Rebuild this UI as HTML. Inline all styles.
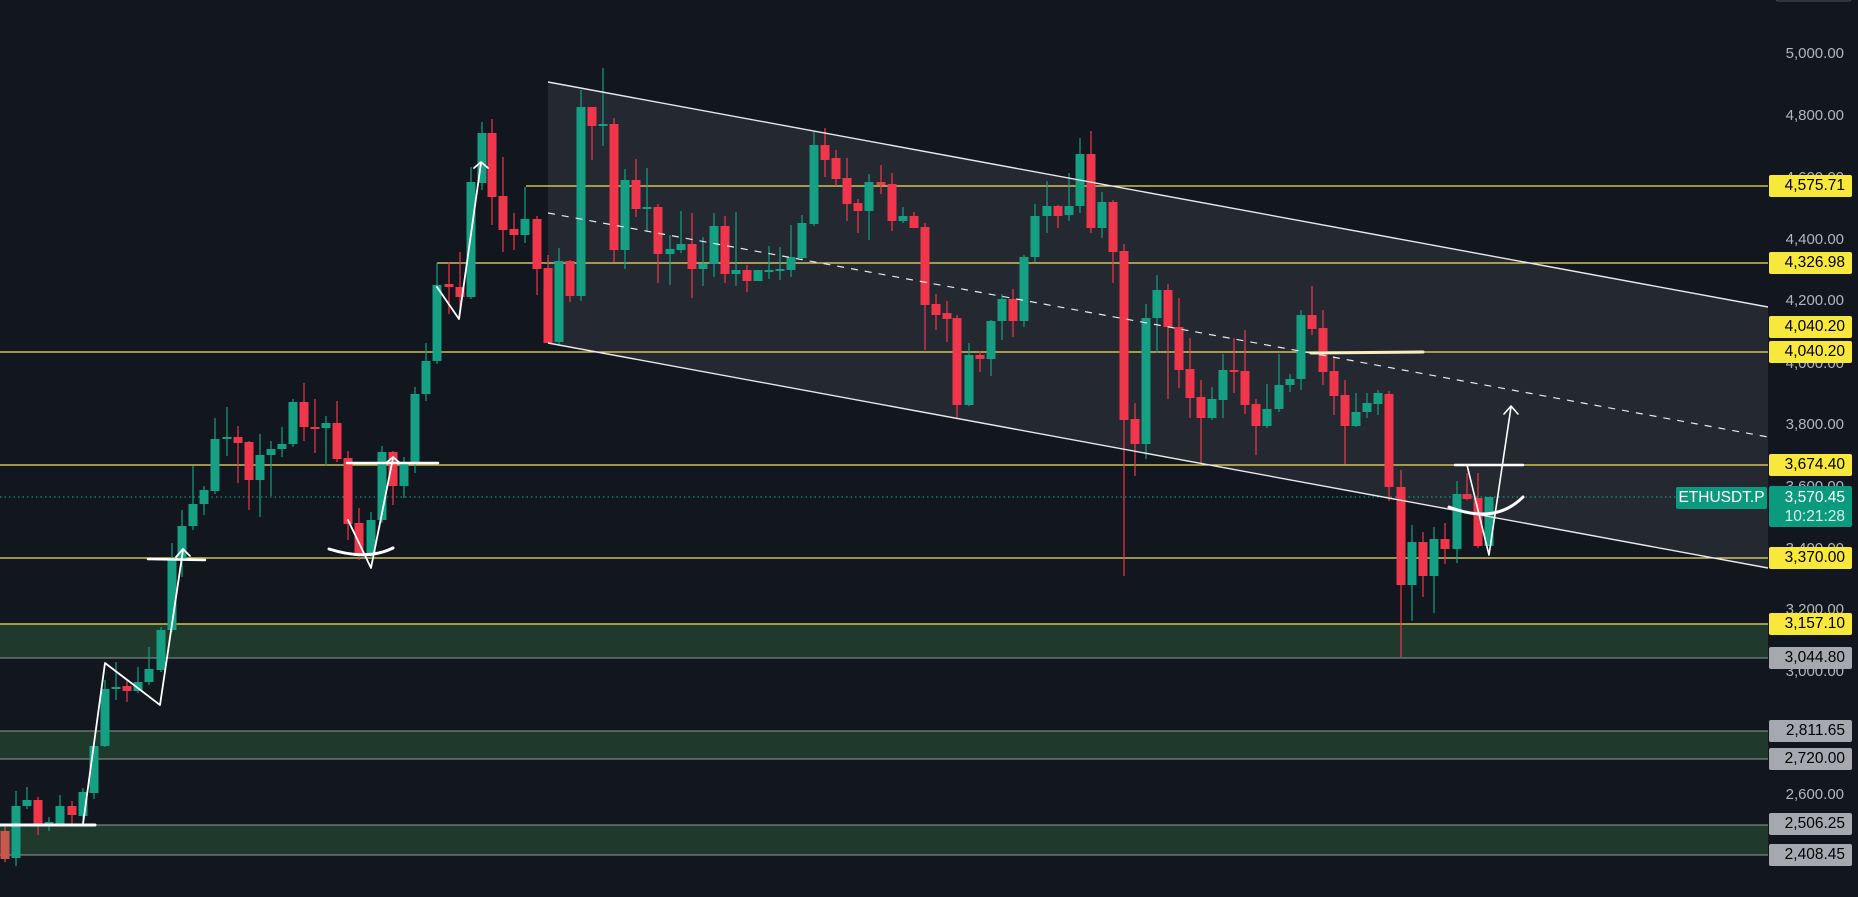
<!DOCTYPE html>
<html><head><meta charset="utf-8">
<style>
html,body{margin:0;padding:0;background:#12161f;}
#w{position:relative;width:1858px;height:897px;overflow:hidden;background:#12161f;font-family:"Liberation Sans",sans-serif;}
svg{position:absolute;left:0;top:0;}
.ax{position:absolute;left:1770px;width:74px;text-align:right;color:#b2b5be;font-size:15px;line-height:18px;}
.lb{position:absolute;left:1769px;width:83px;height:22px;border-radius:2px;font-size:15.5px;line-height:22px;text-align:right;box-sizing:border-box;padding-right:7px;color:#000;}
.y{background:#f8e83c;}
.g{background:#a5a8ae;}
</style></head><body>
<div id="w">
<svg width="1858" height="897" id="s" xmlns="http://www.w3.org/2000/svg">
  <!-- zones -->
  <rect x="0" y="624" width="1768" height="34" fill="#1f3a2c"/>
  <rect x="0" y="731" width="1768" height="28" fill="#1f3a2c"/>
  <rect x="0" y="825" width="1768" height="30" fill="#1f3a2c"/>
  <line x1="0" y1="658" x2="1768" y2="658" stroke="#8c9a98" stroke-width="1"/>
  <line x1="0" y1="731" x2="1768" y2="731" stroke="#8c9a98" stroke-width="1"/>
  <line x1="0" y1="759" x2="1768" y2="759" stroke="#8c9a98" stroke-width="1"/>
  <line x1="0" y1="825" x2="1768" y2="825" stroke="#8c9a98" stroke-width="1"/>
  <line x1="0" y1="855" x2="1768" y2="855" stroke="#8c9a98" stroke-width="1"/>
  <!-- channel fill -->
  <polygon points="548,82 1768,307 1768,568 548,343" fill="#242831"/>
  <!-- yellow lines -->
  <g stroke="#f0e060" stroke-width="1.2">
    <line x1="526" y1="186" x2="1768" y2="186"/>
    <line x1="437" y1="263" x2="1768" y2="263"/>
    <line x1="0" y1="352" x2="1768" y2="352"/>
    <line x1="0" y1="465" x2="1768" y2="465"/>
    <line x1="0" y1="558" x2="1768" y2="558"/>
    <line x1="0" y1="624" x2="1768" y2="624"/>
  </g>
  <!-- current price dotted -->
  <line x1="0" y1="497" x2="1768" y2="497" stroke="#22a88f" stroke-width="1" stroke-dasharray="1.5,3"/>
  <g id="c"></g>
  <!-- channel lines -->
  <line x1="548" y1="82" x2="1768" y2="307" stroke="#e8e8ec" stroke-width="1.4"/>
  <line x1="548" y1="343" x2="1768" y2="568" stroke="#e8e8ec" stroke-width="1.4"/>
  <line x1="548" y1="213" x2="1768" y2="437" stroke="#e8e8ec" stroke-width="1.2" stroke-dasharray="7,7"/>
  <!-- annotations -->
  <g stroke="#ffffff" fill="none" stroke-width="2" stroke-linecap="round" stroke-linejoin="round">
    <line x1="0" y1="825" x2="95" y2="825" stroke-width="3"/>
    <polyline points="83,824 105,663 160,705 183,550" stroke-width="1.8"/>
    <polyline points="176,557 183,549 190,556" stroke-width="1.8"/>
    <line x1="148" y1="559" x2="205" y2="560" stroke-width="2.5"/>
    <path d="M329,549 Q367,561 393,548" stroke-width="3"/>
    <polyline points="348,520 371,568 393,458" stroke-width="1.8"/>
    <polyline points="386,463 393,457 400,463" stroke-width="1.8"/>
    <line x1="347" y1="463" x2="438" y2="463" stroke-width="2.5"/>
    <polyline points="437,287 459,319 481,163" stroke-width="1.8"/>
    <polyline points="474,168 481,162 488,168" stroke-width="1.8"/>
    <line x1="1311" y1="353" x2="1423" y2="352" stroke="#f5eec0" stroke-width="3"/>
    <line x1="1455" y1="465" x2="1523" y2="465" stroke-width="2.5"/>
    <polyline points="1467,465 1489,555 1511,407" stroke-width="1.6"/>
    <polyline points="1504,414 1511,406 1518,414" stroke-width="1.6"/>
    <path d="M1449,507 Q1495,525 1523,497" stroke-width="3"/>
  </g>
  <rect x="1776" y="-4" width="75" height="5" rx="2" fill="none" stroke="#50535e"/>
</svg>
<div class="ax" style="top:45px">5,000.00</div>
<div class="ax" style="top:107px">4,800.00</div>
<div class="ax" style="top:169px">4,600.00</div>
<div class="ax" style="top:231px">4,400.00</div>
<div class="ax" style="top:292px">4,200.00</div>
<div class="ax" style="top:355px">4,000.00</div>
<div class="ax" style="top:416px">3,800.00</div>
<div class="ax" style="top:478px">3,600.00</div>
<div class="ax" style="top:540px">3,400.00</div>
<div class="ax" style="top:601px">3,200.00</div>
<div class="ax" style="top:663px">3,000.00</div>
<div class="ax" style="top:786px">2,600.00</div>
<div class="lb y" style="top:175px">4,575.71</div>
<div class="lb y" style="top:252px">4,326.98</div>
<div class="lb y" style="top:316px">4,040.20</div>
<div class="lb y" style="top:341px">4,040.20</div>
<div class="lb y" style="top:454px">3,674.40</div>
<div class="lb y" style="top:547px">3,370.00</div>
<div class="lb y" style="top:613px">3,157.10</div>
<div class="lb g" style="top:647px">3,044.80</div>
<div class="lb g" style="top:720px">2,811.65</div>
<div class="lb g" style="top:748px">2,720.00</div>
<div class="lb g" style="top:813px">2,506.25</div>
<div class="lb g" style="top:844px">2,408.45</div>
<div style="position:absolute;left:1676px;top:487px;width:91px;height:22px;background:#0b9a7e;border-radius:2px;color:#fff;font-size:15.5px;line-height:22px;text-align:center;">ETHUSDT.P</div>
<div style="position:absolute;left:1769px;top:486px;width:83px;height:41px;background:#0b9a7e;border-radius:2px;color:#fff;font-size:15.5px;line-height:19px;text-align:right;box-sizing:border-box;padding:2px 7px 0 0;">3,570.45<br><span style="color:#d8efe9">10:21:28</span></div>
</div>
<script>
var d=[
[5,'b',831,859,827,862],[16,'g',806,858,791,866],[27,'g',800,806,787,809],[38,'r',800,824,797,835],[49,'g',822,824,817,831],
[60,'g',806,824,795,825],[72,'r',806,815,801,824],[83,'g',792,816,788,824],[94,'g',746,793,742,799],[105,'g',689,746,680,747],
[116,'g',687,689,662,700],[127,'r',686,691,680,702],[138,'g',682,691,667,693],[149,'g',669,682,647,685],[161,'g',630,670,627,672],
[172,'g',558,630,543,632],[182,'g',526,560,510,577],[193,'g',504,526,466,530],[204,'g',490,504,486,515],[215,'g',439,491,418,494],
[227,'g',437,439,407,456],[238,'r',437,443,426,483],[249,'r',442,480,441,510],[260,'g',455,480,434,517],[271,'g',449,455,441,496],
[282,'g',444,449,427,457],[293,'g',402,444,399,447],[304,'r',402,427,383,441],[315,'r',427,428,399,453],[326,'g',423,428,416,466],
[337,'r',423,459,401,462],[348,'r',458,524,451,540],[359,'r',523,554,508,560],[371,'g',520,554,512,558],[382,'g',452,520,446,523],
[393,'r',452,486,451,505],[404,'g',463,486,457,498],[415,'g',394,463,387,473],[426,'g',361,394,343,401],[437,'g',285,361,263,364],
[449,'r',284,287,262,314],[460,'r',287,297,252,311],[471,'g',182,297,167,299],[482,'g',133,183,122,190],[492,'r',133,197,119,225],
[503,'r',196,230,157,252],[514,'r',229,235,213,250],[525,'g',219,235,187,243],[537,'r',219,269,216,295],[548,'r',268,343,255,343],
[559,'g',261,342,248,345],[570,'r',261,296,260,302],[581,'g',107,296,90,301],[592,'r',107,126,107,160],[603,'g',124,125,68,146],
[614,'r',124,250,118,262],[625,'g',180,250,169,269],[636,'r',180,209,159,217],[647,'g',207,208,168,232],[658,'r',207,254,204,283],
[670,'g',249,254,235,285],[681,'g',244,250,211,253],[692,'r',244,269,213,298],[703,'g',264,269,237,286],[714,'g',226,264,213,277],
[725,'r',226,274,216,283],[736,'g',270,274,212,286],[747,'r',270,281,265,292],[758,'g',270,281,270,281],[769,'g',270,271,246,279],
[780,'g',269,271,247,280],[791,'g',257,270,225,277],[802,'g',223,258,215,260],[814,'g',145,224,132,226],[825,'r',145,160,128,177],
[836,'r',158,179,150,186],[847,'r',178,204,158,221],[858,'r',203,211,199,233],[869,'g',182,211,174,240],[881,'r',182,185,165,194],
[892,'r',184,221,173,231],[903,'g',216,221,207,223],[914,'r',216,228,212,228],[925,'r',227,305,223,350],[936,'r',304,315,294,330],
[947,'r',313,319,301,342],[957,'r',318,405,315,418],[969,'g',355,405,343,406],[980,'r',355,359,351,372],[991,'g',321,359,320,376],
[1002,'g',299,321,294,340],[1013,'r',299,321,289,337],[1024,'g',257,321,255,327],[1035,'g',216,257,204,262],[1047,'g',206,216,181,233],
[1058,'r',206,216,205,228],[1069,'g',206,215,173,221],[1080,'g',154,206,138,213],[1091,'r',154,228,131,233],[1102,'g',202,228,192,238],
[1113,'r',202,252,200,283],[1124,'r',251,420,244,576],[1135,'r',419,444,403,476],[1146,'g',318,444,304,459],[1157,'g',290,318,275,353],
[1168,'r',290,327,284,399],[1179,'r',327,370,298,388],[1190,'r',369,398,338,418],[1201,'r',397,418,380,464],[1212,'g',399,418,387,420],
[1223,'g',370,400,354,418],[1234,'r',370,371,338,393],[1245,'r',371,405,330,414],[1256,'r',404,426,399,455],[1267,'g',409,426,384,428],
[1279,'g',385,409,354,412],[1290,'g',379,385,374,392],[1301,'g',315,379,310,390],[1312,'r',315,329,286,335],[1323,'r',328,372,310,385],
[1334,'r',371,396,356,415],[1345,'r',395,426,380,464],[1356,'g',412,426,393,427],[1367,'g',403,412,393,418],[1378,'g',393,404,390,415],
[1389,'r',394,487,391,501],[1401,'r',487,585,470,657],[1412,'g',542,585,525,621],[1423,'r',542,576,532,597],[1434,'g',539,576,527,613],
[1445,'r',539,549,523,564],[1457,'g',494,549,481,563],[1467,'r',494,499,473,500],[1478,'r',498,546,473,548],[1489,'g',497,546,497,546]
];
var col={g:'#159f83',r:'#f0364a',b:'#c9574f'};
var h='';
d.forEach(function(c){
 var f=col[c[1]];var t=c[2],b=c[3];if(b-t<2){b=t+2;}
 h+='<line x1="'+c[0]+'" y1="'+c[4]+'" x2="'+c[0]+'" y2="'+c[5]+'" stroke="'+f+'" stroke-width="1.2"/>';
 h+='<rect x="'+(c[0]-4.5)+'" y="'+t+'" width="9" height="'+(b-t)+'" fill="'+f+'"/>';
});
document.getElementById('c').innerHTML=h;
</script>
</body></html>
